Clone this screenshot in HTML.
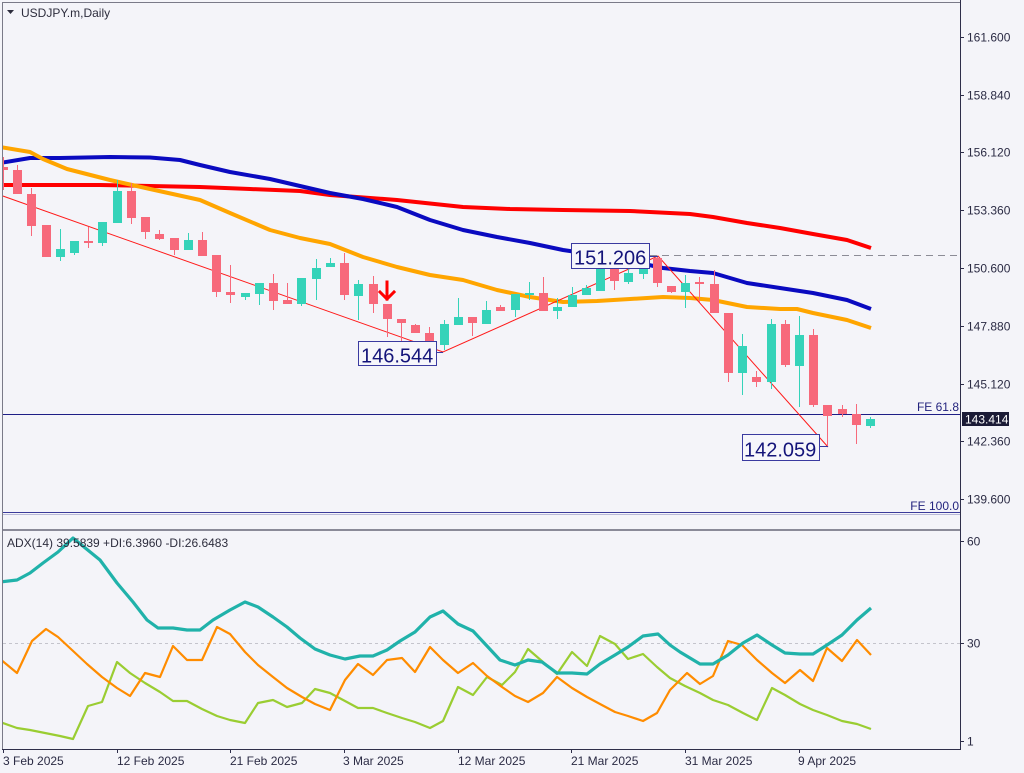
<!DOCTYPE html>
<html>
<head>
<meta charset="utf-8">
<style>
html,body{margin:0;padding:0;background:#F4F4F9;}
svg{display:block;}
text{font-family:"Liberation Sans",sans-serif;}
</style>
</head>
<body>
<svg width="1024" height="773" viewBox="0 0 1024 773" xmlns="http://www.w3.org/2000/svg">
<defs>
<clipPath id="mainclip"><rect x="3" y="3" width="957" height="526"/></clipPath>
<clipPath id="adxclip"><rect x="3" y="532" width="957" height="217"/></clipPath>
</defs>
<rect x="0" y="0" width="1024" height="773" fill="#F4F4F9"/>

<!-- borders -->
<line x1="2" y1="2.5" x2="960" y2="2.5" stroke="#7a7a88" stroke-width="1"/>
<line x1="2.5" y1="2" x2="2.5" y2="750" stroke="#7a7a88" stroke-width="1"/>
<line x1="960.5" y1="0" x2="960.5" y2="750" stroke="#2e2e4a" stroke-width="1"/>
<rect x="3" y="529" width="957" height="2" fill="#8a8a98"/>
<line x1="2" y1="749.5" x2="961" y2="749.5" stroke="#2e2e4a" stroke-width="1"/>

<!-- price axis ticks & labels -->
<g stroke="#2e2e4a" stroke-width="1">
<line x1="961" y1="37.5" x2="964" y2="37.5"/>
<line x1="961" y1="95.5" x2="964" y2="95.5"/>
<line x1="961" y1="152.5" x2="964" y2="152.5"/>
<line x1="961" y1="210.5" x2="964" y2="210.5"/>
<line x1="961" y1="268.5" x2="964" y2="268.5"/>
<line x1="961" y1="326.5" x2="964" y2="326.5"/>
<line x1="961" y1="384.5" x2="964" y2="384.5"/>
<line x1="961" y1="441.5" x2="964" y2="441.5"/>
<line x1="961" y1="499.5" x2="964" y2="499.5"/>
<line x1="961" y1="541.5" x2="964" y2="541.5"/>
<line x1="961" y1="643.5" x2="964" y2="643.5"/>
<line x1="961" y1="741.5" x2="964" y2="741.5"/>
</g>
<g font-size="12" fill="#2b2b44">
<text x="967" y="41.5">161.600</text>
<text x="967" y="99.5">158.840</text>
<text x="967" y="156.5">156.120</text>
<text x="967" y="214.5">153.360</text>
<text x="967" y="272.5">150.600</text>
<text x="967" y="330.5">147.880</text>
<text x="967" y="388.5">145.120</text>
<text x="967" y="445.5">142.360</text>
<text x="967" y="503.5">139.600</text>
<text x="967" y="545.5">60</text>
<text x="967" y="647.5">30</text>
<text x="967" y="745.5">1</text>
</g>

<!-- date axis -->
<g stroke="#2e2e4a" stroke-width="1">
<line x1="3.5" y1="750" x2="3.5" y2="753"/>
<line x1="117.5" y1="750" x2="117.5" y2="753"/>
<line x1="230.5" y1="750" x2="230.5" y2="753"/>
<line x1="344.5" y1="750" x2="344.5" y2="753"/>
<line x1="458.5" y1="750" x2="458.5" y2="753"/>
<line x1="571.5" y1="750" x2="571.5" y2="753"/>
<line x1="685.5" y1="750" x2="685.5" y2="753"/>
<line x1="799.5" y1="750" x2="799.5" y2="753"/>
</g>
<g font-size="12" fill="#2b2b44">
<text x="3" y="765">3 Feb 2025</text>
<text x="117" y="765">12 Feb 2025</text>
<text x="230" y="765">21 Feb 2025</text>
<text x="343" y="765">3 Mar 2025</text>
<text x="458" y="765">12 Mar 2025</text>
<text x="571" y="765">21 Mar 2025</text>
<text x="685" y="765">31 Mar 2025</text>
<text x="798" y="765">9 Apr 2025</text>
</g>

<!-- main panel -->
<g clip-path="url(#mainclip)">
<!-- FE lines -->
<line x1="3" y1="414.5" x2="960" y2="414.5" stroke="#1e1e86" stroke-width="1"/>
<line x1="3" y1="512.5" x2="960" y2="512.5" stroke="#3a3a9a" stroke-width="1"/>
<line x1="3" y1="514.5" x2="960" y2="514.5" stroke="#b8b8d8" stroke-width="1"/>
<!-- dashed 151.206 -->
<line x1="650" y1="255.5" x2="960" y2="255.5" stroke="#8c8c96" stroke-width="1" stroke-dasharray="7,5"/>

<!-- MAs -->
<polyline fill="none" stroke="#FF0000" stroke-width="4" stroke-linejoin="round" points="0,185 100,185 150,186 200,187 250,189 300,191 330,195 397,200 463,207 510,209 563,210 630,211 690,214 713,217 747,223 780,228 813,234 847,240 871,248"/>
<polyline fill="none" stroke="#0A0AC0" stroke-width="4" stroke-linejoin="round" points="0,163 30,158 60,158 110,157 150,157.5 180,160 200,165 230,172 270,179 300,186 330,193 363,199 397,207 430,220 463,230 497,237 530,243 563,250 597,255 630,261 663,268 690,271 713,273 747,283 780,288 813,293 847,300 871,309"/>
<polyline fill="none" stroke="#FFA500" stroke-width="4" stroke-linejoin="round" points="0,147 30,152 43,159 67,169 110,180 150,189 200,200 230,213 270,230 300,238 330,244 363,257 397,267 430,275 463,280 497,290 530,297 563,302 597,301 630,299 663,297 690,298 713,300 747,307 780,309 797,309 813,313 847,320 871,328"/>

<!-- zigzag -->
<polyline fill="none" stroke="#FF1a1a" stroke-width="1" points="0,195 443,352 658,256 828,447"/>

<!-- wicks -->
<g stroke="#F7697B" stroke-width="1">
<line x1="3.5" y1="157" x2="3.5" y2="190"/>
<line x1="17.5" y1="165" x2="17.5" y2="194"/>
<line x1="31.5" y1="188" x2="31.5" y2="236"/>
<line x1="46.5" y1="225" x2="46.5" y2="257"/>
<line x1="88.5" y1="227" x2="88.5" y2="248"/>
<line x1="131.5" y1="183" x2="131.5" y2="224"/>
<line x1="145.5" y1="217" x2="145.5" y2="239"/>
<line x1="159.5" y1="230" x2="159.5" y2="240"/>
<line x1="174.5" y1="238" x2="174.5" y2="255"/>
<line x1="202.5" y1="232" x2="202.5" y2="256"/>
<line x1="216.5" y1="255" x2="216.5" y2="297"/>
<line x1="230.5" y1="265" x2="230.5" y2="303"/>
<line x1="273.5" y1="274" x2="273.5" y2="310"/>
<line x1="287.5" y1="283" x2="287.5" y2="304"/>
<line x1="344.5" y1="253" x2="344.5" y2="300"/>
<line x1="373.5" y1="276" x2="373.5" y2="313"/>
<line x1="387.5" y1="304" x2="387.5" y2="337"/>
<line x1="401.5" y1="319" x2="401.5" y2="345"/>
<line x1="415.5" y1="324" x2="415.5" y2="333"/>
<line x1="429.5" y1="327" x2="429.5" y2="350"/>
<line x1="472.5" y1="317" x2="472.5" y2="336"/>
<line x1="500.5" y1="305" x2="500.5" y2="311"/>
<line x1="543.5" y1="277" x2="543.5" y2="311"/>
<line x1="614.5" y1="265" x2="614.5" y2="290"/>
<line x1="657.5" y1="256" x2="657.5" y2="287"/>
<line x1="671.5" y1="286" x2="671.5" y2="293"/>
<line x1="699.5" y1="277" x2="699.5" y2="302"/>
<line x1="714.5" y1="270" x2="714.5" y2="313"/>
<line x1="728.5" y1="313" x2="728.5" y2="382"/>
<line x1="756.5" y1="371" x2="756.5" y2="387"/>
<line x1="785.5" y1="320" x2="785.5" y2="367"/>
<line x1="813.5" y1="329" x2="813.5" y2="407"/>
<line x1="827.5" y1="405" x2="827.5" y2="446"/>
<line x1="842.5" y1="405" x2="842.5" y2="417"/>
<line x1="856.5" y1="404" x2="856.5" y2="444"/>
</g>
<g stroke="#35D3B9" stroke-width="1">
<line x1="60.5" y1="229" x2="60.5" y2="261"/>
<line x1="74.5" y1="241" x2="74.5" y2="255"/>
<line x1="102.5" y1="222" x2="102.5" y2="246"/>
<line x1="117.5" y1="180" x2="117.5" y2="223"/>
<line x1="188.5" y1="233" x2="188.5" y2="250"/>
<line x1="245.5" y1="293" x2="245.5" y2="300"/>
<line x1="259.5" y1="283" x2="259.5" y2="305"/>
<line x1="301.5" y1="278" x2="301.5" y2="306"/>
<line x1="316.5" y1="259" x2="316.5" y2="300"/>
<line x1="330.5" y1="258" x2="330.5" y2="267"/>
<line x1="358.5" y1="280" x2="358.5" y2="320"/>
<line x1="444.5" y1="320" x2="444.5" y2="350"/>
<line x1="458.5" y1="298" x2="458.5" y2="325"/>
<line x1="486.5" y1="301" x2="486.5" y2="324"/>
<line x1="515.5" y1="294" x2="515.5" y2="317"/>
<line x1="529.5" y1="282" x2="529.5" y2="300"/>
<line x1="557.5" y1="298" x2="557.5" y2="319"/>
<line x1="572.5" y1="287" x2="572.5" y2="307"/>
<line x1="586.5" y1="285" x2="586.5" y2="295"/>
<line x1="600.5" y1="262" x2="600.5" y2="291"/>
<line x1="628.5" y1="265" x2="628.5" y2="284"/>
<line x1="643.5" y1="258" x2="643.5" y2="279"/>
<line x1="685.5" y1="275" x2="685.5" y2="308"/>
<line x1="742.5" y1="334" x2="742.5" y2="395"/>
<line x1="771.5" y1="319" x2="771.5" y2="389"/>
<line x1="799.5" y1="316" x2="799.5" y2="407"/>
<line x1="870.5" y1="417" x2="870.5" y2="428"/>
</g>
<!-- bodies -->
<g fill="#F7697B">
<rect x="-1" y="167" width="9" height="3"/>
<rect x="13" y="170" width="9" height="24"/>
<rect x="27" y="194" width="9" height="32"/>
<rect x="42" y="225" width="9" height="32"/>
<rect x="84" y="241" width="9" height="2"/>
<rect x="127" y="191" width="9" height="27"/>
<rect x="141" y="217" width="9" height="15"/>
<rect x="155" y="234" width="9" height="5"/>
<rect x="170" y="238" width="9" height="12"/>
<rect x="198" y="240" width="9" height="16"/>
<rect x="212" y="255" width="9" height="37"/>
<rect x="226" y="292" width="9" height="3"/>
<rect x="269" y="283" width="9" height="18"/>
<rect x="283" y="300" width="9" height="4"/>
<rect x="340" y="263" width="9" height="32"/>
<rect x="369" y="284" width="9" height="20"/>
<rect x="383" y="304" width="9" height="15"/>
<rect x="397" y="319" width="9" height="4"/>
<rect x="411" y="325" width="9" height="8"/>
<rect x="425" y="333" width="9" height="12"/>
<rect x="468" y="317" width="9" height="6"/>
<rect x="496" y="307" width="9" height="4"/>
<rect x="539" y="293" width="9" height="18"/>
<rect x="610" y="265" width="9" height="16"/>
<rect x="653" y="258" width="9" height="25"/>
<rect x="667" y="286" width="9" height="6"/>
<rect x="695" y="282" width="9" height="2"/>
<rect x="710" y="284" width="9" height="29"/>
<rect x="724" y="313" width="9" height="60"/>
<rect x="752" y="377" width="9" height="5"/>
<rect x="781" y="324" width="9" height="41"/>
<rect x="809" y="335" width="9" height="70"/>
<rect x="823" y="405" width="9" height="11"/>
<rect x="838" y="409" width="9" height="5"/>
<rect x="852" y="414" width="9" height="11"/>
</g>
<g fill="#35D3B9">
<rect x="56" y="249" width="9" height="8"/>
<rect x="70" y="241" width="9" height="12"/>
<rect x="98" y="222" width="9" height="21"/>
<rect x="113" y="191" width="9" height="32"/>
<rect x="184" y="240" width="9" height="10"/>
<rect x="241" y="293" width="9" height="4"/>
<rect x="255" y="283" width="9" height="11"/>
<rect x="297" y="278" width="9" height="26"/>
<rect x="312" y="268" width="9" height="11"/>
<rect x="326" y="263" width="9" height="4"/>
<rect x="354" y="284" width="9" height="12"/>
<rect x="440" y="324" width="9" height="21"/>
<rect x="454" y="317" width="9" height="8"/>
<rect x="482" y="310" width="9" height="14"/>
<rect x="511" y="294" width="9" height="16"/>
<rect x="525" y="293" width="9" height="2"/>
<rect x="553" y="307" width="9" height="4"/>
<rect x="568" y="295" width="9" height="12"/>
<rect x="582" y="288" width="9" height="7"/>
<rect x="596" y="264" width="9" height="27"/>
<rect x="624" y="273" width="9" height="9"/>
<rect x="639" y="258" width="9" height="16"/>
<rect x="681" y="283" width="9" height="9"/>
<rect x="738" y="346" width="9" height="27"/>
<rect x="767" y="324" width="9" height="58"/>
<rect x="795" y="335" width="9" height="31"/>
<rect x="866" y="419" width="9" height="7"/>
</g>

<!-- red arrow -->
<g stroke="#FF0000" stroke-width="3" fill="none" stroke-linecap="square">
<line x1="387" y1="282" x2="387" y2="299"/>
<polyline points="380,292 387,299 394,292"/>
</g>

<!-- price labels boxes -->
<g stroke="#3a3aa0" stroke-width="1" fill="#F6F6FB">
<rect x="358.5" y="341.5" width="78" height="24"/>
<rect x="571.5" y="243.5" width="78" height="25"/>
<rect x="742.5" y="434.5" width="77" height="26"/>
</g>
<g stroke="#3a3aa0" stroke-width="1">
<line x1="437" y1="352.5" x2="443" y2="352.5"/>
<line x1="650" y1="256.5" x2="658" y2="256.5"/>
<line x1="820" y1="446.5" x2="828" y2="446.5"/>
</g>
<g font-size="20" fill="#14147a">
<text x="361" y="362.5">146.544</text>
<text x="574" y="264.5">151.206</text>
<text x="744" y="456.5">142.059</text>
</g>

<!-- FE labels -->
<g font-size="12" fill="#23237e" text-anchor="end">
<text x="959" y="411">FE 61.8</text>
<text x="959" y="510">FE 100.0</text>
</g>
</g>

<!-- current price box -->
<rect x="962" y="412" width="47" height="14" fill="#1B1B36"/>
<text x="965" y="423.5" font-size="12" fill="#FFFFFF">143.414</text>

<!-- title -->
<polygon points="7,10 14,10 10.5,14" fill="#2d2d3d"/>
<text x="21" y="17" font-size="12" fill="#2d2d3d">USDJPY.m,Daily</text>

<!-- ADX panel -->
<g clip-path="url(#adxclip)">
<line x1="3" y1="643.5" x2="960" y2="643.5" stroke="#c4c4cc" stroke-width="1" stroke-dasharray="3,3"/>
<polyline fill="none" stroke="#9ACD32" stroke-width="2.2" stroke-linejoin="round" points="0,722 17,728 30,730 45,733 60,736 73,739 88,706 102,702 117,662 130,673 145,683 160,692 173,701 187,701 202,709 217,716 230,720 245,723 258,703 273,700 287,707 302,703 315,689 330,693 345,701 358,708 373,708 387,713 402,718 415,722 430,728 443,721 458,687 473,695 487,677 502,685 515,672 528,649 543,662 557,674 572,652 587,666 600,636 615,644 628,659 643,654 657,667 670,678 685,686 700,693 713,700 728,705 743,713 757,720 772,688 785,695 800,704 813,710 827,715 842,721 857,724 871,729"/>
<polyline fill="none" stroke="#FF8C00" stroke-width="2.2" stroke-linejoin="round" points="0,659 17,673 32,641 46,629 58,637 72,650 87,664 102,677 117,688 130,696 145,673 160,677 173,646 187,660 202,660 217,627 230,634 245,652 258,665 273,677 287,688 302,697 315,704 330,710 345,680 358,664 373,675 387,660 402,658 415,672 430,647 443,660 458,673 473,663 487,676 502,687 515,696 528,702 543,693 557,677 572,688 587,697 600,704 615,712 628,716 643,721 657,713 670,690 687,673 700,684 713,676 728,641 742,645 757,660 772,673 785,683 800,670 813,681 827,648 842,661 857,640 871,655"/>
<polyline fill="none" stroke="#20B2AA" stroke-width="3.2" stroke-linejoin="round" points="0,582 17,580 30,573 43,563 58,552 73,538 100,560 117,583 133,602 147,620 158,628 173,628 187,630 200,630 213,620 230,610 245,602 258,607 273,617 287,627 300,638 315,649 330,655 345,659 360,656 373,656 387,650 400,641 415,632 430,617 443,611 458,624 473,631 487,646 500,660 515,665 528,660 542,662 557,673 572,673 587,674 600,664 615,655 628,647 643,636 658,634 670,645 680,652 700,664 713,664 728,655 743,643 757,635 772,645 785,653 800,654 813,654 827,645 842,635 857,620 871,608"/>
</g>
<text x="7" y="547" font-size="12" fill="#2d2d3d">ADX(14) 39.5839 +DI:6.3960 -DI:26.6483</text>
</svg>
</body>
</html>
